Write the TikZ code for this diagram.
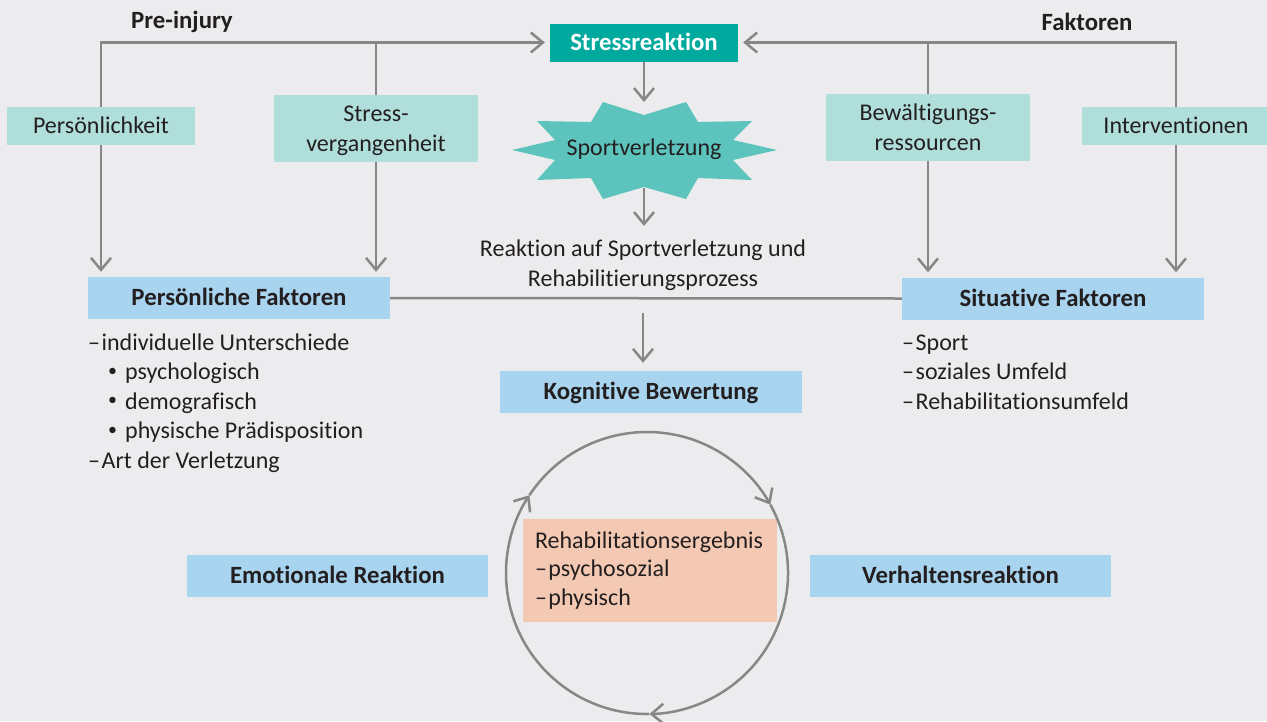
\documentclass[tikz,border=0pt]{standalone}
\usepackage{fontspec}
\setmainfont{Carlito}[Ligatures={NoCommon}]
\usetikzlibrary{arrows.meta}
\definecolor{bg}{HTML}{ECECEE}
\definecolor{lgray}{HTML}{878787}
\definecolor{tealdark}{HTML}{00A99D}
\definecolor{burst}{HTML}{5CC4BC}
\definecolor{lteal}{HTML}{B0DEDB}
\definecolor{lblue}{HTML}{A8D4F0}
\definecolor{peach}{HTML}{F4C9B3}
\definecolor{txt}{HTML}{231F20}
\newcommand{\smbul}{\raisebox{3.5pt}{\scalebox{0.75}{•}}}
\tikzset{
  every node/.style={font=\fontsize{24}{30}\selectfont, text=txt},
  conn/.style={draw=lgray, line width=2.5pt},
  >={Straight Barb[length=12pt,width=20pt]},
  tealbox/.style={fill=lteal, inner sep=0pt, align=center},
  bluebox/.style={fill=lblue, inner sep=0pt, minimum width=302pt, minimum height=42pt, text height=17pt, text depth=2pt, font=\fontsize{24.8}{30}\selectfont\bfseries},
  listtext/.style={inner sep=0pt, align=left, anchor=base west, font=\fontsize{24}{29.5}\selectfont},
  titletext/.style={inner sep=0pt, font=\fontsize{24.8}{30}\selectfont\bfseries},
}
\begin{document}
\begin{tikzpicture}[x=1pt,y=-1pt]
\useasboundingbox (0,0) rectangle (1267,721);
\fill[bg] (0,0) rectangle (1267,721);

% labels
\node[titletext] (pre) at (182,22) {Pre-injury};
\node[titletext] (fak) at (1087,22) {Faktoren};

% top boxes
\node[fill=tealdark, inner sep=0pt, minimum width=188pt, minimum height=38pt, text height=17pt, text depth=2pt, text=white, font=\fontsize{24.8}{30}\selectfont\bfseries] (stress) at (644,42.5) {Stressreaktion};
\node[tealbox, minimum width=188pt, minimum height=38pt, text height=17pt, text depth=2pt] (pers) at (101,126) {Persönlichkeit};
\node[tealbox, minimum width=204pt, minimum height=67pt, text depth=0pt] (stressv) at (376,128.5) {Stress-\\vergangenheit};
\node[tealbox, minimum width=204pt, minimum height=67pt, text depth=0pt] (bew) at (928,127.5) {Bewältigungs-\\ressourcen};
\node[tealbox, minimum width=188pt, minimum height=38pt, text height=17pt, text depth=2pt] (interv) at (1176,126) {Interventionen};

% starburst
\fill[burst] (603,102) -- (644,115) -- (686,102) -- (698,122) -- (752,121) -- (733,140) -- (777,150) -- (733,160) -- (752,180) -- (698,178) -- (686,199) -- (644,187) -- (603,199) -- (591,178) -- (537,180) -- (555,160) -- (512,150) -- (555,140) -- (537,121) -- (591,122) -- cycle;
\node[inner sep=0pt] (sv) at (644,149) {Sportverletzung};
\coordinate (svtop) at (644,102);
\coordinate (svbot) at (644,188);
\coordinate (reakin) at (644,226);

\node[inner sep=0pt, align=center] (reak) at (643,265) {Reaktion auf Sportverletzung und\\Rehabilitierungsprozess};

% factor boxes
\node[bluebox] (pf) at (239,298) {Persönliche Faktoren};
\node[bluebox] (sf) at (1053,298.5) {Situative Faktoren};
\node[bluebox] (kb) at (651,392) {Kognitive Bewertung};
\node[bluebox, minimum width=301pt] (er) at (337.5,576) {Emotionale Reaktion};
\node[bluebox, minimum width=301pt] (vr) at (960.5,576) {Verhaltensreaktion};

% lists (base anchor = baseline of last line)
\node[listtext] (pflist) at (88,468) {–\hspace{1.5pt}individuelle Unterschiede\\\hspace*{20pt}\smbul\hspace{8pt}psychologisch\\\hspace*{20pt}\smbul\hspace{8pt}demografisch\\\hspace*{20pt}\smbul\hspace{8pt}physische Prädisposition\\–\hspace{1.5pt}Art der Verletzung};
\node[listtext] (sflist) at (902,409) {–\hspace{1.5pt}Sport\\–\hspace{1.5pt}soziales Umfeld\\–\hspace{1.5pt}Rehabilitationsumfeld};

% circle
\coordinate (cc) at (647,573);
\node[fill=peach, inner xsep=12pt, inner ysep=0pt, text width=230pt, minimum height=103pt, align=left, font=\fontsize{24}{28.5}\selectfont] (reha) at (650,570.5) {Rehabilitationsergebnis\\–\hspace{1.5pt}psychosozial\\–\hspace{1.5pt}physisch};
\draw[conn,->] (cc) ++(-146.5:141) arc[start angle=-146.5, end angle=-29, radius=141];
\draw[conn,->] (cc) ++(-29:141) arc[start angle=-29, end angle=89, radius=141];
\draw[conn,->] (cc) ++(89:141) arc[start angle=89, end angle=213.5, radius=141];

% connectors
\draw[conn,->] (pers.north) |- ([xshift=-5pt]stress.west);
\draw[conn] (stressv.north) -- (stressv.north |- stress.west);
\draw[conn,->] (interv.north) |- ([xshift=5pt]stress.east);
\draw[conn] (bew.north) -- (bew.north |- stress.east);
\draw[conn,->,shorten >=5pt] (pers.south) -- (pers.south |- pf.north);
\draw[conn,->,shorten >=5pt] (stressv.south) -- (stressv.south |- pf.north);
\draw[conn,->,shorten >=5pt] (bew.south) -- (bew.south |- sf.north);
\draw[conn,->,shorten >=5pt] (interv.south) -- (interv.south |- sf.north);
\draw[conn,->] (stress.south) -- (svtop);
\draw[conn,->] (svbot) -- (reakin);
\draw[conn] (pf.east) -- (sf.west);
\coordinate (kbin) at (643,313);
\draw[conn,->,shorten >=8pt] (kbin) -- (kbin |- kb.north);
\end{tikzpicture}
\end{document}
